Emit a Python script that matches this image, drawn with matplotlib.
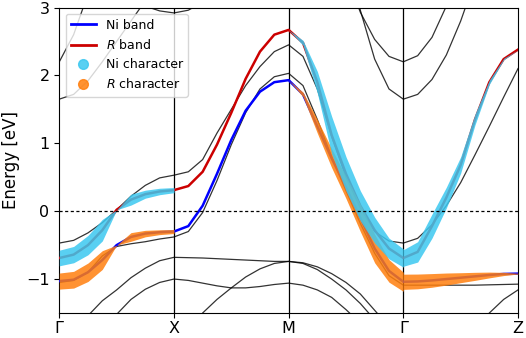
import numpy as np
import matplotlib
matplotlib.use("Agg")
import matplotlib.pyplot as plt
from matplotlib.lines import Line2D

# ---------------- data ----------------
tick_labels = ["Γ", "X", "M", "Γ", "Z"]
tick_pos = [0, 1, 2, 3, 4]
kpath = np.linspace(0, 4, 33)   # k-path sample positions (8 per segment)

# model bands (eV)
ni_band = [-1.03, -1.01, -0.90, -0.72, -0.50, -0.38, -0.33, -0.31, -0.30,
           -0.22, 0.08, 0.55, 1.05, 1.48, 1.76, 1.90, 1.93,
           1.72, 1.25, 0.78, 0.35, -0.10, -0.55, -0.88, -1.04,
           -1.035, -1.02, -1.00, -0.98, -0.96, -0.94, -0.925, -0.92]
r_band = [-0.69, -0.64, -0.50, -0.28, 0.02, 0.17, 0.25, 0.29, 0.31,
          0.37, 0.58, 0.98, 1.45, 1.95, 2.35, 2.60, 2.67,
          2.48, 1.90, 1.12, 0.55, 0.08, -0.28, -0.55, -0.69,
          -0.60, -0.22, 0.20, 0.68, 1.35, 1.90, 2.24, 2.38]

# orbital character weights (0..1)
ni_char = [0.95, 0.93, 0.92, 0.85, 0.0, 0.60, 0.48, 0.40, 0.32,
           0, 0, 0, 0, 0, 0, 0, 0,
           0.15, 0.40, 0.70, 0.80, 0.85, 0.90, 0.93, 0.95,
           0.85, 0.70, 0.55, 0.35, 0.22, 0.12, 0.06, 0.0]
r_char = [1.0, 1.0, 0.95, 0.85, 0.0, 0.50, 0.40, 0.30, 0.25,
          0, 0, 0, 0, 0, 0, 0, 0,
          0.15, 0.35, 0.50, 0.60, 0.72, 0.85, 0.92, 0.95,
          0.92, 0.85, 0.75, 0.62, 0.50, 0.36, 0.20, 0.05]

# DFT bands (eV)
dft1 = [-0.47, -0.43, -0.32, -0.17, 0.02, 0.22, 0.38, 0.49, 0.53,
        0.58, 0.76, 1.15, 1.50, 1.85, 2.13, 2.35, 2.45,
        2.28, 1.80, 1.10, 0.50, 0.05, -0.30, -0.44, -0.47,
        -0.40, -0.20, 0.08, 0.42, 0.83, 1.25, 1.68, 2.10]
dft2 = [-1.05, -1.02, -0.90, -0.66, -0.52, -0.48, -0.45, -0.41, -0.38,
        -0.30, -0.02, 0.45, 0.98, 1.45, 1.80, 1.98, 2.03,
        1.85, 1.35, 0.80, 0.30, -0.18, -0.62, -0.95, -1.09,
        -1.09, -1.09, -1.09, -1.09, -1.09, -1.085, -1.08, -1.075]
dft3 = [-1.90, -1.75, -1.54, -1.32, -1.16, -0.98, -0.84, -0.73, -0.68,
        -0.685, -0.69, -0.70, -0.71, -0.72, -0.73, -0.74, -0.74,
        -0.76, -0.82, -0.92, -1.05, -1.22, -1.46, -1.70, -1.95,
        -1.95, -1.95, -1.95, -1.95, -1.95, -1.95, -1.95, -1.95]
dft4 = [-2.50, -2.30, -2.00, -1.72, -1.52, -1.30, -1.15, -1.05, -1.00,
        -1.02, -1.06, -1.10, -1.13, -1.13, -1.11, -1.08, -1.06,
        -1.09, -1.16, -1.27, -1.45, -1.65, -1.85, -2.00, -2.10,
        -2.10, -2.10, -2.10, -2.10, -2.10, -2.10, -2.10, -2.10]
dft5 = [-2.60, -2.60, -2.60, -2.60, -2.60, -2.60, -2.60, -2.50, -2.30,
        -1.90, -1.50, -1.30, -1.13, -0.97, -0.85, -0.77, -0.74,
        -0.77, -0.86, -1.00, -1.16, -1.36, -1.60, -1.85, -2.10,
        -2.10, -2.05, -2.00, -1.90, -1.72, -1.50, -1.30, -1.16]
dft6 = [1.65, 1.72, 1.92, 2.20, 2.50, 2.80, 3.10, 3.40, 3.70,
        3.90, 4.10, 4.30, 4.50, 4.60, 4.70, 4.80, 4.90,
        4.80, 4.70, 4.50, 3.90, 2.96, 2.24, 1.80, 1.65,
        1.72, 1.94, 2.30, 2.80, 3.40, 4.00, 4.50, 5.00]
dft7 = [2.20, 2.60, 3.20, 3.70, 4.10, 4.40, 4.60, 4.70, 4.75,
        4.80, 4.85, 4.90, 4.90, 4.85, 4.80, 4.60, 4.40,
        4.30, 4.10, 3.90, 3.50, 2.93, 2.53, 2.28, 2.20,
        2.29, 2.56, 3.02, 3.60, 4.10, 4.50, 4.80, 5.00]
dft8 = [4.50, 4.20, 3.90, 3.60, 3.35, 3.15, 3.02, 2.95, 2.92,
        2.96, 3.08, 3.30, 3.60, 3.90, 4.20, 4.50, 4.70,
        4.70, 4.70, 4.70, 4.70, 4.70, 4.70, 4.70, 4.70,
        4.70, 4.70, 4.70, 4.70, 4.70, 4.70, 4.70, 4.70]
dft_bands = [dft1, dft2, dft3, dft4, dft5, dft6, dft7, dft8]

# ---------------- style ----------------
W, H, DPI = 526, 338, 100
fig = plt.figure(figsize=(W / DPI, H / DPI), dpi=DPI)
ax = fig.add_axes([59.3 / W, 1 - 313 / H, (518 - 59.3) / W, (313 - 7.5) / H])
ax.set_xlim(0, 4)
ax.set_ylim(-1.5, 3)

CYAN = "#3cc8f0"
ORANGE = "#ff7f0e"
BLUE = "#0000ff"
RED = "#cc0000"
MAXD = 16.0  # max fat-band diameter in pixels

for b in dft_bands:
    ax.plot(kpath, b, color="black", lw=0.9, alpha=0.8, zorder=2)

ax.plot(kpath, ni_band, color=BLUE, lw=1.8, zorder=3)
ax.plot(kpath, r_band, color=RED, lw=1.8, zorder=3)

# fat bands
bbox = ax.get_window_extent()
sx = bbox.width / 4.0
sy = bbox.height / 4.5


def fat(band, weight, color, z):
    band = np.asarray(band, float)
    weight = np.asarray(weight, float)
    for s in range(4):
        sl = slice(8 * s, 8 * s + 9)
        ks, es, ws = kpath[sl], band[sl], weight[sl]
        if ws[1:-1].max() <= 0:
            continue
        slope = np.gradient(es, ks) * sy / sx
        half = ws * MAXD / 2 * np.sqrt(1 + slope ** 2) / sy
        ax.fill_between(ks, es - half, es + half, color=color, alpha=0.85,
                        lw=0, zorder=z)


fat(ni_band, r_char, ORANGE, 4)
fat(r_band, ni_char, CYAN, 5)

ax.axhline(0, color="black", lw=0.9, ls=(0, (2.5, 2)), zorder=6)
for p in tick_pos[1:-1]:
    ax.axvline(p, color="black", lw=0.9, zorder=1)

ax.set_xticks(tick_pos)
ax.set_xticklabels(tick_labels)
ax.set_yticks([-1, 0, 1, 2, 3])
ax.set_yticklabels(["\u22121", "0", "1", "2", "3"])
ax.tick_params(labelsize=11.5)
ax.tick_params(axis="x", pad=2.5)
ax.set_ylabel("Energy [eV]", fontsize=12)

handles = [
    Line2D([], [], color=BLUE, lw=2, label="Ni band"),
    Line2D([], [], color=RED, lw=2, label="$R$ band"),
    Line2D([], [], color=CYAN, marker="o", ls="none", ms=7, alpha=0.85, label="Ni character"),
    Line2D([], [], color=ORANGE, marker="o", ls="none", ms=7, alpha=0.85, label="$R$ character"),
]
ax.legend(handles=handles, loc="upper left", fontsize=9)

fig.savefig("out.png", dpi=DPI)
